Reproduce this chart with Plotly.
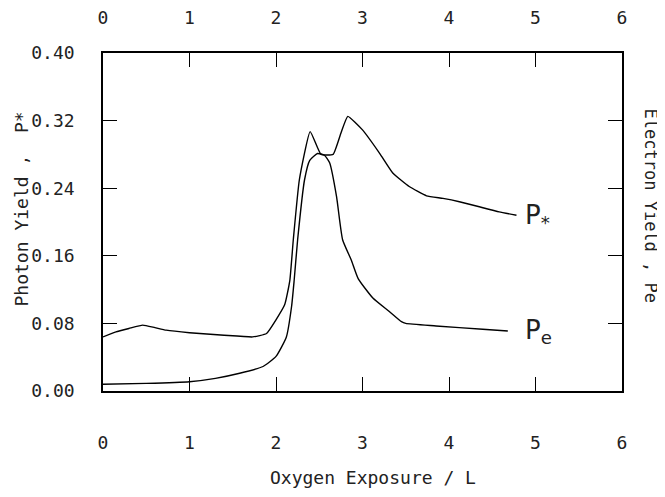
import plotly.graph_objects as go

# Photon yield P* (left axis)
pstar_x = [0.0, 0.15, 0.30, 0.46, 0.60, 0.73, 1.00, 1.40, 1.73, 1.89, 2.10, 2.16, 2.20, 2.27, 2.395,
           2.52, 2.66, 2.75, 2.83, 3.00, 3.20, 3.35, 3.54, 3.74, 3.93, 4.12, 4.35, 4.58, 4.78]
pstar_y = [0.064, 0.070, 0.074, 0.078, 0.075, 0.072, 0.069, 0.066, 0.064, 0.068, 0.102, 0.131, 0.179, 0.250, 0.307,
           0.280, 0.280, 0.305, 0.325, 0.309, 0.281, 0.258, 0.242, 0.231, 0.228, 0.224, 0.218, 0.212, 0.208]

# Electron yield Pe (right axis, same scale)
pe_x = [0.0, 0.5, 1.0, 1.30, 1.58, 1.85, 2.00, 2.12, 2.18, 2.21, 2.25, 2.33, 2.39, 2.48, 2.56, 2.62,
        2.70, 2.77, 2.87, 2.95, 3.12, 3.31, 3.45, 3.50, 3.85, 4.39, 4.68]
pe_y = [0.008, 0.009, 0.011, 0.015, 0.021, 0.029, 0.041, 0.064, 0.100, 0.131, 0.179, 0.250, 0.273, 0.281, 0.279, 0.270,
        0.230, 0.179, 0.155, 0.133, 0.110, 0.094, 0.082, 0.080, 0.077, 0.073, 0.071]

x_ticks = [0, 1, 2, 3, 4, 5, 6]
y_ticks = [0.00, 0.08, 0.16, 0.24, 0.32, 0.40]

FONT = "DejaVu Sans Mono"
fig = go.Figure()
fig.add_trace(go.Scatter(x=pstar_x, y=pstar_y, mode="lines", line=dict(color="black", width=1.4, shape="spline", smoothing=0.4),
                         showlegend=False))
fig.add_trace(go.Scatter(x=pe_x, y=pe_y, mode="lines", line=dict(color="black", width=1.4, shape="spline", smoothing=0.5),
                         showlegend=False, yaxis="y2"))
# invisible trace to activate top axis
fig.add_trace(go.Scatter(x=[0, 6], y=[0, 0], mode="lines", line=dict(width=0), showlegend=False, xaxis="x2", hoverinfo="skip"))

axcommon = dict(showgrid=False, zeroline=False, ticks="inside", ticklen=14, tickwidth=1.2, tickcolor="black",
                linecolor="black", linewidth=1.6, showline=True, automargin=False,
                tickfont=dict(family=FONT, size=18, color="#222"))
fig.update_layout(
    width=657, height=489,
    margin=dict(l=95, r=43, t=45, b=106, autoexpand=False),
    paper_bgcolor="white", plot_bgcolor="white",
    xaxis=dict(range=[0, 6], tickvals=x_ticks, ticktext=[str(v) for v in x_ticks], ticklabelstandoff=35, **axcommon),
    xaxis2=dict(range=[0, 6], tickvals=x_ticks, ticktext=[str(v) for v in x_ticks], overlaying="x", side="top",
                ticklabelstandoff=20, **axcommon),
    yaxis=dict(range=[0, 0.40], tickvals=y_ticks, ticktext=[f"{v:.2f}" for v in y_ticks], ticklabelstandoff=23,
               **axcommon),
    yaxis2=dict(range=[0, 0.40], tickvals=y_ticks, showticklabels=False, overlaying="y", side="right", **axcommon),
    font=dict(family=FONT, color="#222"),
)

anns = [
    dict(text="Oxygen Exposure / L", xref="paper", yref="paper", x=0.52, y=-0.255, xanchor="center", yanchor="middle",
         showarrow=False, font=dict(family=FONT, size=18)),
    dict(text="Photon Yield ,  P*", xref="paper", yref="paper", x=-0.158, y=0.54, xanchor="center", yanchor="middle",
         textangle=-90, showarrow=False, font=dict(family=FONT, size=18)),
    dict(text="Electron Yield , Pe", xref="paper", yref="paper", x=1.055, y=0.55, xanchor="center", yanchor="middle",
         textangle=90, showarrow=False, font=dict(family=FONT, size=17)),
    dict(text="P<sub>*</sub>", x=4.86, y=0.207, xref="x", yref="y", xanchor="left", yanchor="middle",
         showarrow=False, font=dict(family="DejaVu Sans", size=26)),
    dict(text="P<sub>e</sub>", x=4.86, y=0.071, xref="x", yref="y", xanchor="left", yanchor="middle",
         showarrow=False, font=dict(family="DejaVu Sans", size=26)),
]
fig.update_layout(annotations=anns)
fig.write_html("out.html")
